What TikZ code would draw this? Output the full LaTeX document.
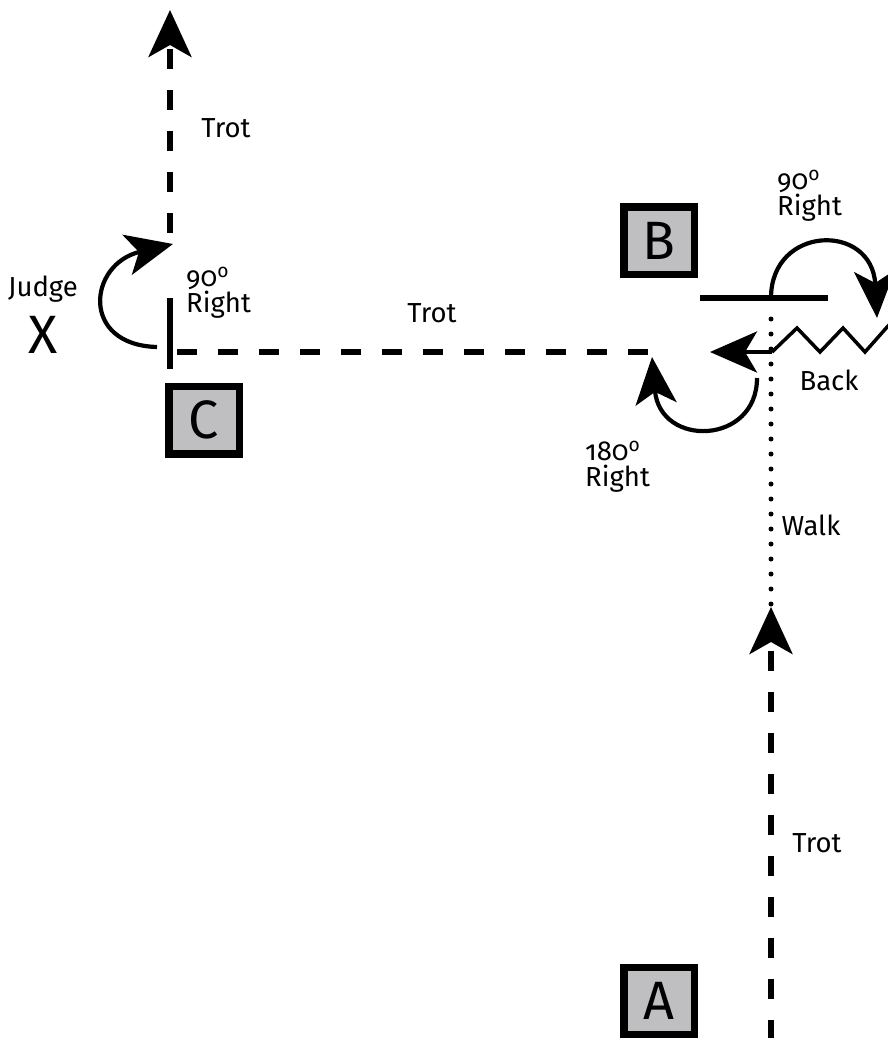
\documentclass[tikz,border=0pt]{standalone}
\usepackage{fontspec}
\setmainfont{Fira Sans}[Numbers=OldStyle]
\usetikzlibrary{arrows.meta}
\definecolor{boxgray}{RGB}{191,191,193}

\begin{document}
\begin{tikzpicture}[x=1pt,y=-1pt,
  lbl/.style={font=\fontsize{27.5}{27.5}\selectfont, inner sep=0pt, anchor=base},
  turnlbl/.style={font=\fontsize{27.5}{27.5}\selectfont, inner sep=0pt, align=left, anchor=base west},
  letterbox/.style={draw=black, line width=7.5pt, fill=boxgray, minimum width=70.5pt,
    minimum height=67.5pt, inner sep=0pt, font=\fontsize{54}{54}\selectfont},
  dashline/.style={line width=5.5pt, dash pattern=on 20pt off 21pt},
  solidbar/.style={line width=6.5pt},
  dotline/.style={line width=5pt, line cap=round, dash pattern=on 0pt off 15pt},
  turn/.style={line width=4.2pt},
  bigtip/.style={-{Stealth[length=47pt,width=43pt,inset=12pt]}},
  turntip/.style={-{Stealth[length=47pt,width=41pt,inset=12pt]}},
]
\useasboundingbox (0,0) rectangle (888,1038);

% letter markers
\node[letterbox] (B) at (659,240.5) {B};
\node[letterbox] (C) at (204,420) {C};
\node[letterbox] (A) at (659,1001) {A};

% path points
\coordinate (topStart) at (170,233);
\coordinate (topTip) at (170,10);
\coordinate (barTop) at (170,298);
\coordinate (barBot) at (170,369);
\coordinate (hStart) at (177,352);
\coordinate (hEnd) at (652,352);
\coordinate (judgeStart) at (157,347);
\coordinate (judgeTip) at (173,244);
\coordinate (stopL) at (700,298);
\coordinate (stopR) at (828,298);
\coordinate (stopMid) at (771,298);
\coordinate (turnTip) at (877,318);
\coordinate (dotTop) at (771,308);
\coordinate (dotBot) at (771,604);
\coordinate (backStart) at (772,352);
\coordinate (backTip) at (710,352);
\coordinate (uStart) at (757,378);
\coordinate (uTip) at (652,357);
\coordinate (botStart) at (771,1040);
\coordinate (botTip) at (771,607);

% final trot leg
\draw[dashline, bigtip] (topStart) -- (topTip);
% halt bar and trot leg
\draw[solidbar] (barTop) -- (barBot);
\draw[dashline] (hStart) -- (hEnd);
% 90 degree turn at the judge
\draw[turn, turntip] (judgeStart) .. controls (80,345) and (88,264) .. (judgeTip);
% stop bar and 90 degree turn
\draw[solidbar] (stopL) -- (stopR);
\draw[turn, turntip] (stopMid) .. controls (771,225) and (872,222) .. (turnTip);
% walk leg
\draw[dotline] (dotBot) -- (dotTop);
% back up zigzag
\draw[line width=3.5pt, line join=miter] (backStart) -- (797,328) -- (820,352) -- (843,328)
  -- (865,352) -- (888,326) -- (898,316);
\draw[turn, turntip] (backStart) -- (backTip);
% 180 degree turn
\draw[turn, turntip] (uStart) .. controls (757,445) and (660,448) .. (uTip);
% first trot leg
\draw[dashline, bigtip] (botStart) -- (botTip);

% labels
\node[lbl] (trot1) at (226,137) {Trot};
\node[lbl] (judge) at (43,296) {Judge};
\node[font=\fontsize{54}{54}\selectfont, inner sep=0pt, anchor=base] (judgeX) at (43,353) {X};
\node[turnlbl] (turnC) at (186,312) {90\textsuperscript{o}\\[-2pt]Right};
\node[lbl] (trot2) at (432,322) {Trot};
\node[turnlbl] (turnB) at (777,215) {90\textsuperscript{o}\\[-2pt]Right};
\node[lbl] (back) at (829,390) {Back};
\node[turnlbl] (turnU) at (585,486) {180\textsuperscript{o}\\[-2pt]Right};
\node[lbl] (walk) at (811,535) {Walk};
\node[lbl] (trot3) at (817,852) {Trot};
\end{tikzpicture}
\end{document}
